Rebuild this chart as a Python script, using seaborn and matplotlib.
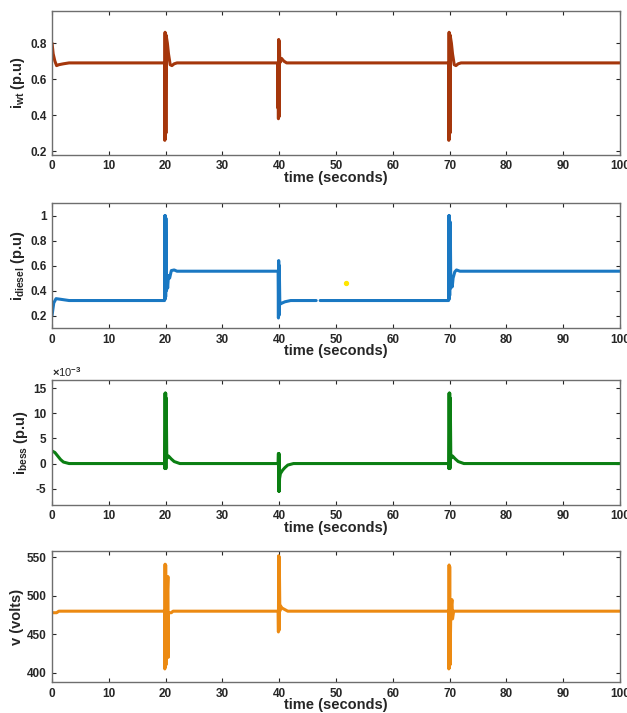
import numpy as np
import pandas as pd
import matplotlib
matplotlib.use("Agg")
import matplotlib.pyplot as plt
import seaborn as sns

# ---------------------------
# Data
# ---------------------------
wt_time = [0, 0.2, 0.5, 0.8, 1.2, 2, 3, 19.8, 19.85, 19.9, 19.95, 20.0, 20.05, 20.1, 20.15,
           20.3, 20.5, 20.8, 21.1, 21.5, 22, 39.7, 39.75, 39.8, 39.85, 39.9, 39.95, 40.0, 40.1,
           40.4, 40.8, 41.3, 42, 69.8, 69.85, 69.9, 69.95, 70.0, 70.05, 70.1, 70.15, 70.3,
           70.5, 70.8, 71.1, 71.5, 72, 100]
wt_current = [0.80, 0.74, 0.70, 0.675, 0.68, 0.685, 0.69, 0.69, 0.26, 0.86, 0.27, 0.85, 0.30,
              0.84, 0.83, 0.80, 0.74, 0.68, 0.675, 0.685, 0.69, 0.69, 0.44, 0.69, 0.38, 0.82,
              0.39, 0.81, 0.69, 0.715, 0.70, 0.69, 0.69, 0.69, 0.26, 0.86, 0.27, 0.85, 0.30,
              0.84, 0.83, 0.80, 0.74, 0.68, 0.675, 0.685, 0.69, 0.69]

diesel_time = [0, 0.3, 0.7, 1.5, 3, 19.8, 19.85, 19.9, 19.95, 20.0, 20.05, 20.15, 20.25, 20.35,
               20.5, 20.7, 21.0, 21.5, 22, 39.8, 39.85, 39.9, 39.95, 40.0, 40.1, 40.5, 41, 42,
               46.5, 46.8, 47.2, 69.8, 69.85, 69.9, 69.95, 70.0, 70.1, 70.2, 70.3, 70.45, 70.6,
               70.9, 71.2, 71.8, 100]
diesel_current = [0.20, 0.30, 0.335, 0.33, 0.32, 0.32, 1.0, 0.33, 1.0, 0.35, 0.98, 0.40, 0.50,
                  0.42, 0.52, 0.50, 0.56, 0.565, 0.555, 0.555, 0.18, 0.64, 0.20, 0.60, 0.29,
                  0.30, 0.31, 0.32, 0.32, np.nan, 0.32, 0.32, 1.0, 0.33, 1.0, 0.36, 0.95, 0.42,
                  0.50, 0.43, 0.50, 0.55, 0.565, 0.555, 0.555]
diesel_dot = (51.7, 0.46)

# battery current in units of 1e-3 p.u
bess_time = [0, 0.5, 1.0, 1.5, 2.0, 3, 19.8, 19.85, 19.9, 19.95, 20.0, 20.05, 20.1, 20.2, 20.5,
             21, 21.5, 22.5, 39.8, 39.85, 39.9, 39.95, 40.0, 40.05, 40.2, 40.6, 41, 41.5, 42.5,
             69.8, 69.85, 69.9, 69.95, 70.0, 70.05, 70.1, 70.2, 70.5, 71, 71.5, 72.5, 100]
bess_current = [2.5, 2.2, 1.5, 0.8, 0.3, 0.0, 0.0, -1.0, 14.0, -0.5, 14.0, -1.0, 13.0, 1.0, 1.5,
                0.9, 0.4, 0.0, 0.0, 2.0, -5.5, 2.0, -5.5, -3.0, -2.0, -1.3, -0.8, -0.3, 0.0,
                0.0, -1.0, 14.0, -0.5, 14.0, -1.0, 13.0, 1.0, 1.5, 0.9, 0.4, 0.0, 0.0]

v_time = [0, 0.8, 1.2, 19.8, 19.85, 19.9, 19.95, 20.0, 20.05, 20.2, 20.4, 20.45, 20.5, 21, 21.3,
          39.8, 39.85, 39.9, 39.95, 40.0, 40.1, 40.2, 40.5, 41, 41.5, 69.8, 69.85, 69.9, 69.95,
          70.0, 70.05, 70.2, 70.4, 70.5, 70.7, 100]
v_volts = [478, 478, 480, 480, 405, 541, 408, 540, 410, 480, 525, 420, 478, 478, 480,
           480, 453, 552, 455, 550, 480, 487, 484, 482, 480, 480, 405, 540, 407,
           538, 410, 480, 495, 470, 480, 480]

x_ticks = list(range(0, 101, 10))
wt_ticks, wt_labels = [0.2, 0.4, 0.6, 0.8], ["0.2", "0.4", "0.6", "0.8"]
diesel_ticks, diesel_labels = [0.2, 0.4, 0.6, 0.8, 1.0], ["0.2", "0.4", "0.6", "0.8", "1"]
bess_ticks, bess_labels = [-5, 0, 5, 10, 15], ["-5", "0", "5", "10", "15"]
v_ticks, v_labels = [400, 450, 500, 550], ["400", "450", "500", "550"]


def make_frame(t, y):
    df = pd.DataFrame({"time": t, "value": np.array(y, dtype=float)})
    # split at NaN gaps so the line breaks there
    df["seg"] = df["value"].isna().cumsum()
    return df.dropna()


# ---------------------------
# Styling
# ---------------------------
sns.set_style("ticks")
plt.rcParams["font.family"] = ["Liberation Sans", "DejaVu Sans"]
plt.rcParams["font.weight"] = "bold"
plt.rcParams["axes.unicode_minus"] = False
plt.rcParams["mathtext.fontset"] = "custom"
plt.rcParams["mathtext.rm"] = "Liberation Sans:bold"
plt.rcParams["mathtext.it"] = "Liberation Sans:bold"
plt.rcParams["mathtext.bf"] = "Liberation Sans:bold"

fig = plt.figure(figsize=(6.27, 7.13), dpi=100)

panels = [
    (make_frame(wt_time, wt_current), "#A5360B", r"$i_{wt}$ (p.u)", (0.18, 0.98),
     wt_ticks, wt_labels, [0.783, 0.202]),
    (make_frame(diesel_time, diesel_current), "#1A78C2", r"$i_{diesel}$ (p.u)", (0.1, 1.1),
     diesel_ticks, diesel_labels, [0.540, 0.175]),
    (make_frame(bess_time, bess_current), "#0B7F12", r"$i_{bess}$ (p.u)", (-8.2, 16.6),
     bess_ticks, bess_labels, [0.292, 0.175]),
    (make_frame(v_time, v_volts), "#EC8A12", "v (volts)", (388, 558),
     v_ticks, v_labels, [0.0435, 0.1835]),
]

axes = []
for df, color, ylabel, ylim, yticks, ylabels, (bottom, height) in panels:
    ax = fig.add_axes([0.083, bottom, 0.906, height])
    sns.lineplot(data=df, x="time", y="value", units="seg", estimator=None, sort=False,
                 color=color, lw=2.2, ax=ax)
    ax.set_xlim(0, 100)
    ax.set_ylim(*ylim)
    ax.set_xticks(x_ticks)
    ax.set_yticks(yticks, ylabels)
    ax.set_xlabel("time (seconds)", fontsize=10.5, fontweight="bold", labelpad=-1,
                  color="#262626")
    ax.set_ylabel(ylabel, fontsize=10.5, fontweight="bold", labelpad=2, color="#262626")
    ax.tick_params(direction="in", top=True, right=True, length=3, width=0.8,
                   labelsize=8.5, colors="#262626", pad=4)
    for s in ax.spines.values():
        s.set_visible(True)
        s.set_color("#6E6E6E")
        s.set_linewidth(1.0)
    axes.append(ax)

# isolated point in the diesel panel
axes[1].scatter([diesel_dot[0]], [diesel_dot[1]], s=8, color="#FFE600", zorder=3)

# x10^-3 multiplier on the battery panel
axes[2].text(0.0, 1.01, r"$\times$10$^{-3}$", transform=axes[2].transAxes, fontsize=8,
             fontweight="normal", color="#262626", ha="left", va="bottom")

fig.savefig("out.png", dpi=100)
